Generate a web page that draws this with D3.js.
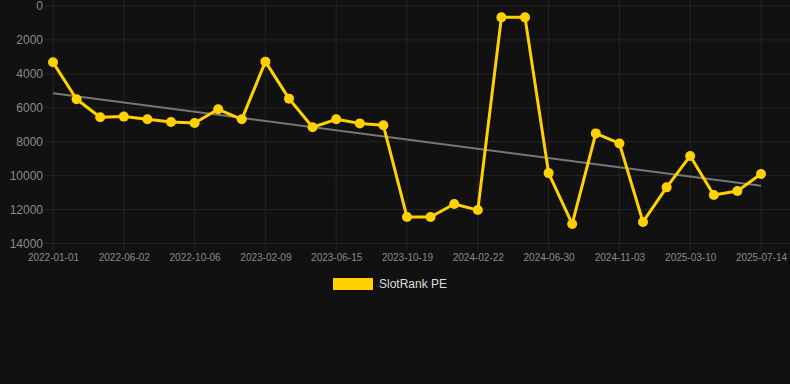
<!DOCTYPE html>
<html><head><meta charset="utf-8">
<script src="https://cdn.jsdelivr.net/npm/d3@7"></script>
<style>html,body{margin:0;padding:0;background:#111111;}svg{display:block;}</style>
</head><body>
<div id="chart"></div>
<script>
const dates = ["2022-01-01","2022-03-10","2022-04-21","2022-06-02","2022-07-14","2022-08-25","2022-10-06","2022-11-17","2022-12-29","2023-02-09","2023-03-23","2023-05-04","2023-06-15","2023-07-27","2023-09-07","2023-10-19","2023-11-30","2024-01-11","2024-02-22","2024-04-04","2024-05-16","2024-06-30","2024-08-11","2024-09-22","2024-11-03","2024-12-15","2025-01-26","2025-03-10","2025-04-21","2025-06-02","2025-07-14"];
const values = [3320,5500,6560,6520,6680,6840,6900,6090,6680,3280,5460,7150,6680,6920,7030,12440,12440,11670,12030,670,670,9850,12850,7510,8100,12730,10690,8840,11140,10910,9900];
const yTicks = [0,2000,4000,6000,8000,10000,12000,14000];
const seriesName = "SlotRank PE";

(function(){
const W = 790, H = 384;
const pLeft = 53, pRight = 761, pTop = 6, pBottom = 243.5;
const svg = d3.select("#chart").append("svg").attr("width", W).attr("height", H).style("background","#111111");

const x = d3.scalePoint().domain(dates).range([pLeft, pRight]);
const y = d3.scaleLinear().domain([0,14000]).range([pTop, pBottom]);

const grid = "#242424";
svg.append("g").selectAll("line").data(yTicks).join("line")
  .attr("x1", 45).attr("x2", W).attr("y1", d=>y(d)).attr("y2", d=>y(d))
  .attr("stroke", grid).attr("stroke-width", 1);
const xTickDates = dates.filter((d,i)=> i%3===0);
svg.append("g").selectAll("line").data(xTickDates).join("line")
  .attr("x1", d=>x(d)).attr("x2", d=>x(d)).attr("y1", 0).attr("y2", 251)
  .attr("stroke", grid).attr("stroke-width", 1);

const yAxis = d3.axisLeft(y).tickValues(yTicks).tickSize(0).tickPadding(0).tickFormat(d=>String(d));
const gy = svg.append("g").attr("transform", `translate(43,0)`).call(yAxis);
gy.select(".domain").remove();
gy.selectAll("text").attr("fill","#8a8a8a").style("font-family","Arial, 'Liberation Sans', sans-serif").style("font-size","12px");

const xAxis = d3.axisBottom(x).tickValues(xTickDates).tickSize(0).tickPadding(0);
const gx = svg.append("g").attr("transform", `translate(0,254)`).call(xAxis);
gx.select(".domain").remove();
gx.selectAll("text").attr("fill","#8a8a8a").attr("dy","0.71em").style("font-family","Arial, 'Liberation Sans', sans-serif").style("font-size","10px");

const n = values.length;
const xm = (n-1)/2, ym = d3.mean(values);
let sxy=0, sxx=0;
values.forEach((v,i)=>{ sxy += (i-xm)*(v-ym); sxx += (i-xm)*(i-xm); });
const slope = sxy/sxx, icpt = ym - slope*xm;
svg.append("line")
  .attr("x1", x(dates[0])).attr("y1", y(icpt))
  .attr("x2", x(dates[n-1])).attr("y2", y(icpt + slope*(n-1)))
  .attr("stroke", "#777777").attr("stroke-width", 2);

const color = "#FFD100";
const line = d3.line().x((d,i)=>x(dates[i])).y(d=>y(d));
svg.append("path").datum(values).attr("d", line)
  .attr("fill","none").attr("stroke", color).attr("stroke-width", 3).attr("stroke-linejoin","round");
svg.append("g").selectAll("circle").data(values).join("circle")
  .attr("cx",(d,i)=>x(dates[i])).attr("cy", d=>y(d)).attr("r", 5).attr("fill", color);

svg.append("rect").attr("x",333).attr("y",278).attr("width",40).attr("height",12).attr("fill",color);
svg.append("text").attr("x",379).attr("y",284).attr("dy","0.35em").text(seriesName)
  .attr("fill","#dddddd").style("font-family","Arial, 'Liberation Sans', sans-serif").style("font-size","12px");
})();
</script>
</body></html>
